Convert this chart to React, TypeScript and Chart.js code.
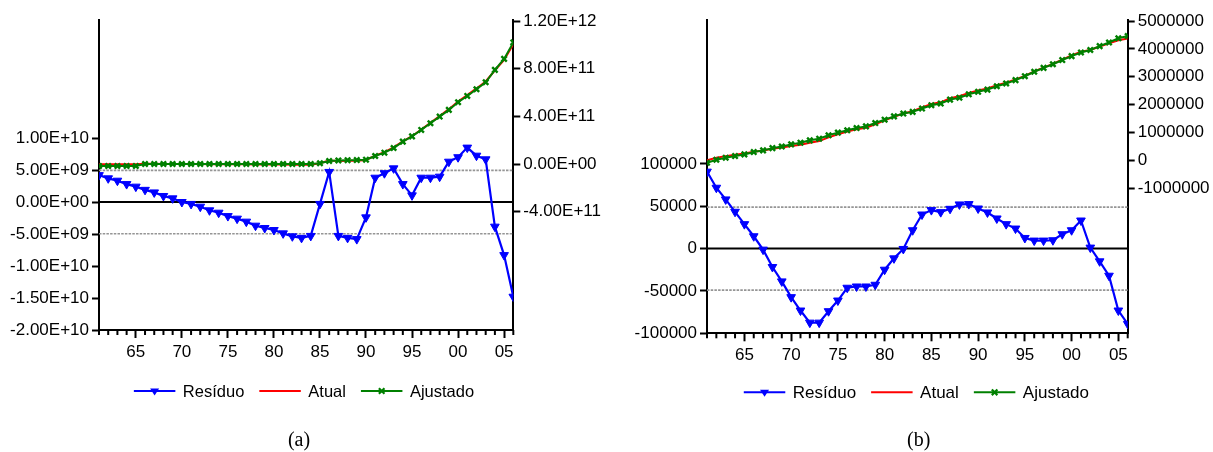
import React, { useEffect, useRef } from 'react';
import { Chart, registerables } from 'chart.js';

Chart.register(...registerables);

// ---------- data ----------
const YEARS = [
  1961, 1962, 1963, 1964, 1965, 1966, 1967, 1968, 1969, 1970,
  1971, 1972, 1973, 1974, 1975, 1976, 1977, 1978, 1979, 1980,
  1981, 1982, 1983, 1984, 1985, 1986, 1987, 1988, 1989, 1990,
  1991, 1992, 1993, 1994, 1995, 1996, 1997, 1998, 1999, 2000,
  2001, 2002, 2003, 2004, 2005, 2006,
];
const X_TICKS = [1965, 1970, 1975, 1980, 1985, 1990, 1995, 2000, 2005];

// Panel (a)
const RESID_A = [
  4.2e9, 3.7e9, 3.33e9, 2.8e9, 2.4e9, 1.9e9, 1.5e9, 0.94e9, 0.57e9, 0.0,
  -0.3e9, -0.73e9, -1.3e9, -1.67e9, -2.2e9, -2.6e9, -3.07e9, -3.7e9, -4.06e9, -4.38e9,
  -4.9e9, -5.36e9, -5.6e9, -5.3e9, -0.3e9, 4.7e9, -5.3e9, -5.6e9, -5.8e9, -2.4e9,
  3.8e9, 4.5e9, 5.26e9, 2.8e9, 1.04e9, 3.8e9, 3.8e9, 3.96e9, 6.3e9, 7.0e9,
  8.5e9, 7.24e9, 6.67e9, -3.85e9, -8.3e9, -14.8e9,
];
const ACTUAL_A = [
  -0.03e11, -0.03e11, -0.03e11, -0.03e11, -0.03e11, 0.02e11, 0.015e11, 0.01e11, 0.006e11, 0.0,
  -0.003e11, -0.007e11, -0.013e11, -0.017e11, -0.022e11, -0.026e11, -0.031e11, -0.037e11, -0.041e11, -0.044e11,
  -0.049e11, -0.054e11, -0.056e11, -0.053e11, 0.057e11, 0.297e11, 0.247e11, 0.264e11, 0.272e11, 0.336e11,
  0.708e11, 0.995e11, 1.393e11, 1.908e11, 2.33e11, 2.898e11, 3.458e11, 4.02e11, 4.603e11, 5.25e11,
  5.795e11, 6.342e11, 6.927e11, 7.861e11, 8.737e11, 10.052e11,
];
const FITTED_A = [
  -0.17e11, -0.17e11, -0.17e11, -0.17e11, -0.17e11, 0.0, 0.0, 0.0, 0.0, 0.0,
  0.0, 0.0, 0.0, 0.0, 0.0, 0.0, 0.0, 0.0, 0.0, 0.0,
  0.0, 0.0, 0.0, 0.0, 0.06e11, 0.25e11, 0.3e11, 0.32e11, 0.33e11, 0.36e11,
  0.67e11, 0.95e11, 1.34e11, 1.88e11, 2.32e11, 2.86e11, 3.42e11, 3.98e11, 4.54e11, 5.18e11,
  5.71e11, 6.27e11, 6.86e11, 7.9e11, 8.82e11, 10.2e11,
];
const LEFT_TICKS_A = [-2e10, -1.5e10, -1e10, -5e9, 0, 5e9, 1e10];
const RIGHT_TICKS_A = [-4e11, 0, 4e11, 8e11, 1.2e12];
const SE_A = 4.95e9;

// Panel (b)
const RESID_B = [
  90900, 71900, 58100, 43500, 28900, 14600, -1200, -21700, -38700, -57300,
  -73100, -87400, -87400, -73900, -61300, -46200, -44700, -44700, -42700, -24900,
  -11500, -400, 21700, 40300, 45500, 43100, 47000, 52200, 52600, 47400,
  42700, 35600, 28900, 23700, 12600, 9500, 9500, 9900, 17000, 21700,
  33200, 1200, -15000, -32000, -73100, -88900,
];
const ACTUAL_B = [
  0.007e6, 0.096e6, 0.154e6, 0.2e6, 0.245e6, 0.315e6, 0.359e6, 0.418e6, 0.461e6, 0.519e6,
  0.563e6, 0.633e6, 0.693e6, 0.826e6, 0.935e6, 1.034e6, 1.115e6, 1.175e6, 1.297e6, 1.435e6,
  1.568e6, 1.68e6, 1.762e6, 1.9e6, 2.026e6, 2.083e6, 2.227e6, 2.302e6, 2.423e6, 2.507e6,
  2.583e6, 2.696e6, 2.789e6, 2.904e6, 3.033e6, 3.19e6, 3.33e6, 3.46e6, 3.617e6, 3.762e6,
  3.903e6, 3.961e6, 4.085e6, 4.198e6, 4.307e6, 4.371e6,
];
const FITTED_B = [
  -0.084e6, 0.024e6, 0.096e6, 0.156e6, 0.216e6, 0.3e6, 0.36e6, 0.44e6, 0.5e6, 0.576e6,
  0.636e6, 0.72e6, 0.78e6, 0.9e6, 0.996e6, 1.08e6, 1.16e6, 1.22e6, 1.34e6, 1.46e6,
  1.58e6, 1.68e6, 1.74e6, 1.86e6, 1.98e6, 2.04e6, 2.18e6, 2.25e6, 2.37e6, 2.46e6,
  2.54e6, 2.66e6, 2.76e6, 2.88e6, 3.02e6, 3.18e6, 3.32e6, 3.45e6, 3.6e6, 3.74e6,
  3.87e6, 3.96e6, 4.1e6, 4.23e6, 4.38e6, 4.46e6,
];
const LEFT_TICKS_B = [-100000, -50000, 0, 50000, 100000];
const RIGHT_TICKS_B = [-1000000, 0, 1000000, 2000000, 3000000, 4000000, 5000000];
const SE_B = 49000;

const LABEL_RESID = 'Resíduo';
const LABEL_ACTUAL = 'Atual';
const LABEL_FITTED = 'Ajustado';
const CAPTIONS = ['(a)', '(b)'];

// ---------- styling ----------
const FONT = "'Liberation Sans', Arial, sans-serif";
const BLUE = '#0000ff';
const RED = '#ff0000';
const GREEN = '#008000';

function sci(v: number): string {
  const s = v.toExponential(2);
  const [m, e] = s.split('e');
  const n = parseInt(e, 10);
  return m + 'E' + (n < 0 ? '-' : '+') + String(Math.abs(n)).padStart(2, '0');
}

function plain(v: number): string {
  return String(Math.round(v));
}

type PanelCfg = {
  resid: number[];
  actual: number[];
  fitted: number[];
  leftTicks: number[];
  rightTicks: number[];
  leftMin: number;
  leftMax: number;
  rightMin: number;
  rightMax: number;
  fmt: (v: number) => string;
  se: number;
  leftW: number;
  rightW: number;
  bottom: number; // chart area bottom
  legendY: number;
  legendCx: number;
  legendFont: number;
};

const H = 452;
const X_AXIS_H = 40;

function makeChart(canvas: HTMLCanvasElement, p: PanelCfg) {
  const pts = (arr: number[]) => YEARS.map((x, i) => ({ x, y: arr[i] }));

  const refLines = {
    id: 'refLines',
    beforeDatasetsDraw(chart: any) {
      const { ctx, chartArea } = chart;
      const yL = chart.scales.yL;
      ctx.save();
      ctx.strokeStyle = '#959595';
      ctx.lineWidth = 1.6;
      ctx.setLineDash([2.5, 1.2]);
      [p.se, -p.se].forEach((v) => {
        const y = yL.getPixelForValue(v);
        ctx.beginPath();
        ctx.moveTo(chartArea.left, y);
        ctx.lineTo(chartArea.right, y);
        ctx.stroke();
      });
      ctx.setLineDash([]);
      ctx.strokeStyle = '#000';
      ctx.lineWidth = 2;
      const y0 = yL.getPixelForValue(0);
      ctx.beginPath();
      ctx.moveTo(chartArea.left, y0);
      ctx.lineTo(chartArea.right, y0);
      ctx.stroke();
      ctx.restore();
    },
  };

  const minorTicks = {
    id: 'minorTicks',
    afterDraw(chart: any) {
      const { ctx, chartArea } = chart;
      const xs = chart.scales.x;
      ctx.save();
      ctx.strokeStyle = '#000';
      ctx.lineWidth = 2;
      YEARS.forEach((yr) => {
        if (X_TICKS.includes(yr)) return;
        const x = xs.getPixelForValue(yr);
        ctx.beginPath();
        ctx.moveTo(x, chartArea.bottom);
        ctx.lineTo(x, chartArea.bottom + 5);
        ctx.stroke();
      });
      ctx.restore();
    },
  };

  const legend = {
    id: 'customLegend',
    afterDraw(chart: any) {
      const { ctx } = chart;
      ctx.save();
      ctx.font = `${p.legendFont}px ${FONT}`;
      const items = [
        { label: LABEL_RESID, color: BLUE, marker: 'tri' },
        { label: LABEL_ACTUAL, color: RED, marker: 'none' },
        { label: LABEL_FITTED, color: GREEN, marker: 'x' },
      ];
      const lineLen = 41.5;
      const gap = 7.5;
      const itemGap = 15;
      const widths = items.map((it) => ctx.measureText(it.label).width);
      const total =
        widths.reduce((a, b) => a + b, 0) + items.length * (lineLen + gap) + itemGap * (items.length - 1);
      let x = p.legendCx - total / 2;
      const y = p.legendY;
      items.forEach((it, i) => {
        ctx.strokeStyle = it.color;
        ctx.fillStyle = it.color;
        ctx.lineWidth = 2;
        ctx.beginPath();
        ctx.moveTo(x, y);
        ctx.lineTo(x + lineLen, y);
        ctx.stroke();
        const mx = x + lineLen / 2;
        if (it.marker === 'tri') {
          ctx.beginPath();
          ctx.moveTo(mx - 4.5, y - 2.5);
          ctx.lineTo(mx + 4.5, y - 2.5);
          ctx.lineTo(mx, y + 4.5);
          ctx.closePath();
          ctx.fill();
        } else if (it.marker === 'x') {
          ctx.lineWidth = 2.2;
          ctx.beginPath();
          ctx.moveTo(mx - 2.8, y - 2.8);
          ctx.lineTo(mx + 2.8, y + 2.8);
          ctx.moveTo(mx + 2.8, y - 2.8);
          ctx.lineTo(mx - 2.8, y + 2.8);
          ctx.stroke();
        }
        x += lineLen + gap;
        ctx.fillStyle = '#000';
        ctx.textBaseline = 'middle';
        ctx.textAlign = 'left';
        ctx.fillText(it.label, x, y + 1);
        x += widths[i] + itemGap;
      });
      ctx.restore();
    },
  };

  const tickFont = { family: FONT, size: 17 };

  return new Chart(canvas, {
    type: 'line',
    data: {
      datasets: [
        {
          label: LABEL_FITTED,
          data: pts(p.fitted),
          yAxisID: 'yR',
          borderColor: GREEN,
          backgroundColor: GREEN,
          borderWidth: 2,
          pointStyle: 'crossRot',
          pointRadius: 3.8,
          pointBorderWidth: 2.4,
          pointBorderColor: GREEN,
          order: 0,
        },
        {
          label: LABEL_ACTUAL,
          data: pts(p.actual),
          yAxisID: 'yR',
          borderColor: RED,
          backgroundColor: RED,
          borderWidth: 2,
          pointRadius: 0,
          order: 1,
        },
        {
          label: LABEL_RESID,
          data: pts(p.resid),
          yAxisID: 'yL',
          borderColor: BLUE,
          backgroundColor: BLUE,
          borderWidth: 2.2,
          pointStyle: 'triangle',
          rotation: 180,
          pointRadius: 5,
          pointBorderWidth: 1,
          order: 2,
        },
      ],
    } as any,
    options: {
      animation: false,
      responsive: false,
      devicePixelRatio: 1,
      layout: { padding: { top: 20, bottom: H - p.bottom - X_AXIS_H, left: 0, right: 0 } },
      plugins: { legend: { display: false }, tooltip: { enabled: false } },
      scales: {
        x: {
          type: 'linear',
          position: 'bottom',
          min: YEARS[0],
          max: YEARS[YEARS.length - 1],
          afterFit: (s: any) => {
            s.height = X_AXIS_H;
          },
          afterBuildTicks: (s: any) => {
            s.ticks = X_TICKS.map((v) => ({ value: v }));
          },
          ticks: {
            callback: (v: any) => String(Number(v) % 100).padStart(2, '0'),
            color: '#000',
            font: tickFont,
            padding: 4,
            maxRotation: 0,
            autoSkip: false,
          },
          grid: { drawOnChartArea: false, tickLength: 8, tickWidth: 2, tickColor: '#000' },
          border: { display: true, color: '#000', width: 2 },
        },
        yL: {
          type: 'linear',
          position: 'left',
          min: p.leftMin,
          max: p.leftMax,
          afterFit: (s: any) => {
            s.width = p.leftW;
          },
          afterBuildTicks: (s: any) => {
            s.ticks = p.leftTicks.map((v) => ({ value: v }));
          },
          ticks: { callback: (v: any) => p.fmt(Number(v)), color: '#000', font: tickFont, padding: 3, autoSkip: false },
          grid: { drawOnChartArea: false, tickLength: 7, tickWidth: 2, tickColor: '#000' },
          border: { display: true, color: '#000', width: 2 },
        },
        yR: {
          type: 'linear',
          position: 'right',
          min: p.rightMin,
          max: p.rightMax,
          afterFit: (s: any) => {
            s.width = p.rightW;
          },
          afterBuildTicks: (s: any) => {
            s.ticks = p.rightTicks.map((v) => ({ value: v }));
          },
          ticks: { callback: (v: any) => p.fmt(Number(v)), color: '#000', font: tickFont, padding: 3, autoSkip: false },
          grid: { drawOnChartArea: false, tickLength: 7, tickWidth: 2, tickColor: '#000' },
          border: { display: true, color: '#000', width: 2 },
        },
      },
    } as any,
    plugins: [refLines, minorTicks, legend],
  });
}

const PANEL_A: PanelCfg = {
  resid: RESID_A,
  actual: ACTUAL_A,
  fitted: FITTED_A,
  leftTicks: LEFT_TICKS_A,
  rightTicks: RIGHT_TICKS_A,
  leftMin: -2e10,
  leftMax: 2.844e10,
  rightMin: -1.393e12,
  rightMax: 1.2084e12,
  fmt: sci,
  se: SE_A,
  leftW: 99,
  rightW: 92.7,
  bottom: 330,
  legendY: 391,
  legendCx: 304,
  legendFont: 16.5,
};

const PANEL_B: PanelCfg = {
  resid: RESID_B,
  actual: ACTUAL_B,
  fitted: FITTED_B,
  leftTicks: LEFT_TICKS_B,
  rightTicks: RIGHT_TICKS_B,
  leftMin: -100000,
  leftMax: 270000,
  rightMin: -6.2e6,
  rightMax: 5.036e6,
  fmt: plain,
  se: SE_B,
  leftW: 101,
  rightW: 85.3,
  bottom: 333.3,
  legendY: 392.3,
  legendCx: 310.4,
  legendFont: 17,
};

function Panel({ cfg, left, width }: { cfg: PanelCfg; left: number; width: number }) {
  const ref = useRef<HTMLCanvasElement>(null);
  useEffect(() => {
    const chart = makeChart(ref.current as HTMLCanvasElement, cfg);
    return () => chart.destroy();
  }, [cfg]);
  return (
    <canvas
      ref={ref}
      width={width}
      height={H}
      style={{ position: 'absolute', left, top: 0, width, height: H }}
    />
  );
}

export default function App() {
  const capStyle: React.CSSProperties = {
    position: 'absolute',
    top: 427,
    width: 60,
    textAlign: 'center',
    fontFamily: "'Liberation Serif', 'Times New Roman', serif",
    fontSize: 20,
    lineHeight: '24px',
    color: '#000',
  };
  return (
    <div
      style={{
        position: 'fixed',
        left: 0,
        top: 0,
        width: 1213,
        height: H,
        background: '#fff',
        overflow: 'hidden',
      }}
    >
      <Panel cfg={PANEL_A} left={0} width={606} />
      <Panel cfg={PANEL_B} left={606} width={607} />
      <div style={{ ...capStyle, left: 299 - 30 }}>{CAPTIONS[0]}</div>
      <div style={{ ...capStyle, left: 918.7 - 30 }}>{CAPTIONS[1]}</div>
    </div>
  );
}
